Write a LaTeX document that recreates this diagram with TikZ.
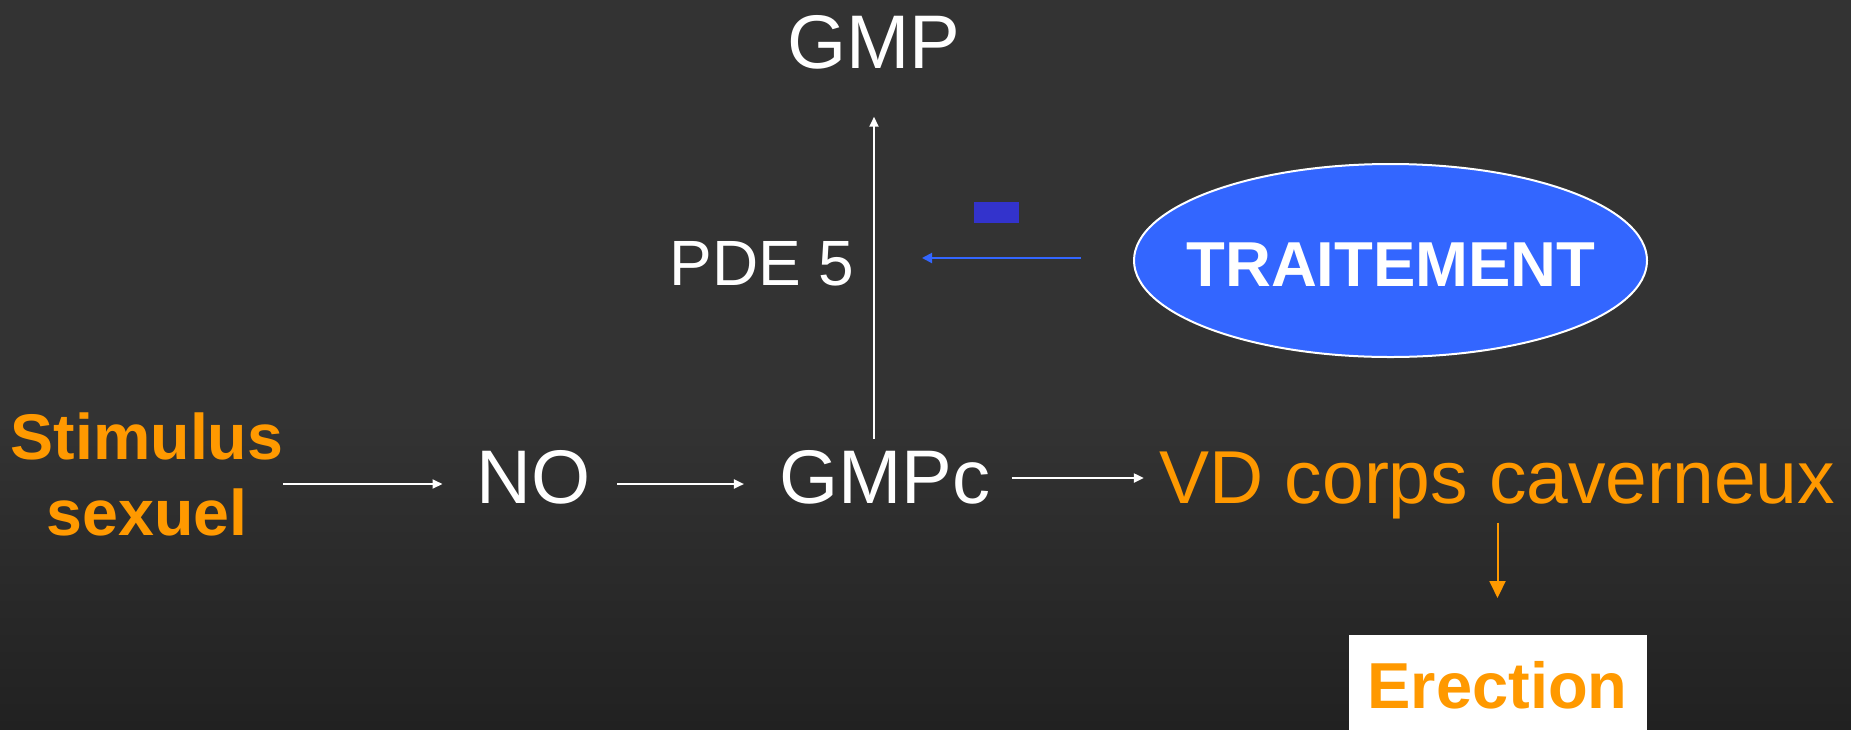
\documentclass[tikz,border=0pt]{standalone}
\usepackage{fontspec}
\setmainfont{Liberation Sans}
\usetikzlibrary{arrows.meta,shapes.geometric}
\definecolor{bgtop}{HTML}{333333}
\definecolor{bgbot}{HTML}{212121}
\definecolor{orng}{HTML}{FF9900}
\definecolor{ellblue}{HTML}{3366FF}
\definecolor{minusblue}{HTML}{3333CC}
\tikzset{
  lbl/.style={inner sep=0pt, outer sep=0pt, anchor=base, text=white, font=\fontsize{76}{91}\selectfont},
  boldlbl/.style={inner sep=0pt, outer sep=0pt, anchor=base, font=\bfseries\fontsize{64.5}{76}\selectfont},
  wa/.style={draw=white, line width=2pt, -{Triangle[length=10pt,width=9pt]}},
  ba/.style={draw=ellblue, line width=2pt, -{Triangle[length=10pt,width=10pt]}},
  oa/.style={draw=orng, line width=2pt, -{Triangle[length=17pt,width=16pt]}},
}
\begin{document}
\begin{tikzpicture}[x=1pt,y=-1pt]
\useasboundingbox (0,0) rectangle (1851,729);
\fill[bgtop] (0,0) rectangle (1851,729);
\shade[top color=bgtop, bottom color=bgbot] (0,420) rectangle (1851,729);
\clip (0,0) rectangle (1851,729);

% nodes
\node[boldlbl, anchor=north, align=center, text=orng] (stim) at (147,413) {Stimulus\\sexuel};
\node[lbl] (no) at (533.5,503) {NO};
\node[lbl] (gmpc) at (885,503) {GMPc};
\node[lbl, text=orng, font=\fontsize{75}{90}\selectfont] (vd) at (1497.5,503) {VD corps caverneux};
\node[lbl] (gmp) at (874,68) {GMP};
\node[lbl, font=\fontsize{64}{77}\selectfont] (pde) at (762,285) {PDE 5};
\node[ellipse, fill=ellblue, draw=white, line width=2pt, minimum width=513pt, minimum height=193pt, inner sep=0pt] (trait) at (1390.5,260.5) {};
\node[boldlbl, text=white, font=\bfseries\fontsize{63.5}{76}\selectfont] (traittxt) at (1391,286) {TRAITEMENT};
\node[rectangle, fill=minusblue, minimum width=45pt, minimum height=21pt, inner sep=0pt] (minus) at (996.5,212.5) {};
\node[rectangle, fill=white, anchor=north, minimum width=298pt, minimum height=130pt, inner sep=0pt] (erect) at (1498,635) {};
\node[boldlbl, text=orng, font=\bfseries\fontsize{65}{78}\selectfont] (erecttxt) at (1497.5,708) {Erection};

% level coordinates
\coordinate (r1) at (0,484);
\coordinate (r3) at (0,478);
\coordinate (rb) at (0,258);

% connectors
\draw[wa, shorten >=34pt] (stim.east |- r1) -- (no.west |- r1);
\draw[wa, shorten <=26.5pt, shorten >=35.5pt] (no.east |- r1) -- (gmpc.west |- r1);
\draw[wa, shorten <=21pt, shorten >=16pt] (gmpc.east |- r3) -- (vd.west |- r3);
\draw[wa, shorten <=10.7pt, shorten >=48pt] (gmp.south |- gmpc.north) -- (gmp.south);
\draw[ba, shorten <=52pt, shorten >=48pt] (trait.west |- rb) -- (gmp.south |- rb);
\draw[oa, shorten <=4pt, shorten >=37pt] (vd.south) -- (vd.south |- erect.north);
\end{tikzpicture}
\end{document}
